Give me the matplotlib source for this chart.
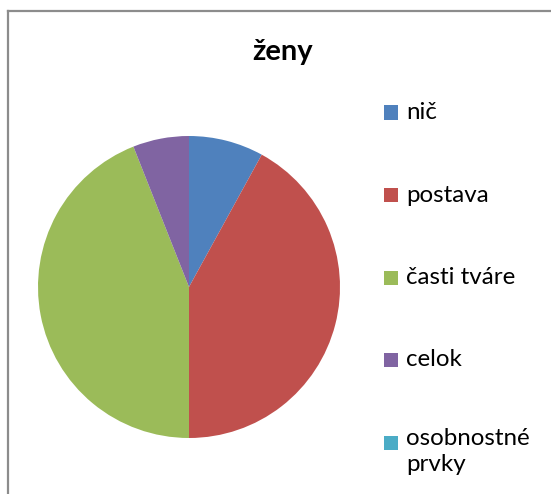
import matplotlib.pyplot as plt
from matplotlib.patches import Rectangle
from matplotlib.lines import Line2D

# data
labels = ["nič", "postava", "časti tváre", "celok", "osobnostné\nprvky"]
values = [4, 21, 22, 3, 0]
colors = ["#4F81BD", "#C0504D", "#9BBB59", "#8064A2", "#4BACC6"]
title = "ženy"

plt.rcParams['font.family'] = ['Lato', 'DejaVu Sans']

W, H = 551, 494
fig = plt.figure(figsize=(W / 100, H / 100), dpi=100)

# outer chart frame (cut off at right and bottom)
fx, fy = 8 / W, 1 - 11 / H
fig.add_artist(Line2D([fx, fx], [0, fy], color="#8C8C8C", linewidth=1.6,
                      transform=fig.transFigure, solid_capstyle='projecting'))
fig.add_artist(Line2D([fx, 1.01], [fy, fy], color="#8C8C8C", linewidth=1.6,
                      transform=fig.transFigure, solid_capstyle='projecting'))

# pie: centre ~(189,287) px, radius ~151 px
cx, cy, r = 189, 287, 151
ax = fig.add_axes([(cx - r) / W, (H - cy - r) / H, 2 * r / W, 2 * r / H])
ax.pie(values, colors=colors, startangle=90, counterclock=False,
       radius=1, wedgeprops=dict(linewidth=0))
ax.set_xlim(-1, 1)
ax.set_ylim(-1, 1)
ax.set_aspect('auto')
ax.axis('off')

fig.text(283 / W, 1 - 52 / H, title, ha='center', va='center',
         fontsize=21, fontweight='bold')

# legend on the right
ys = [112.5, 195, 277.5, 360, 442.5]
for lab, col, y in zip(labels, colors, ys):
    fig.patches.append(Rectangle((383.5 / W, 1 - (y + 7) / H), 14 / W, 14 / H,
                                 transform=fig.transFigure, facecolor=col,
                                 edgecolor='none'))
    if '\n' in lab:
        fig.text(406 / W, 1 - (y - 15) / H, lab, ha='left', va='top',
                 fontsize=17.4, linespacing=1.3)
    else:
        fig.text(406 / W, 1 - y / H, lab, ha='left', va='center', fontsize=17.4)

fig.savefig('out.png', dpi=100)
